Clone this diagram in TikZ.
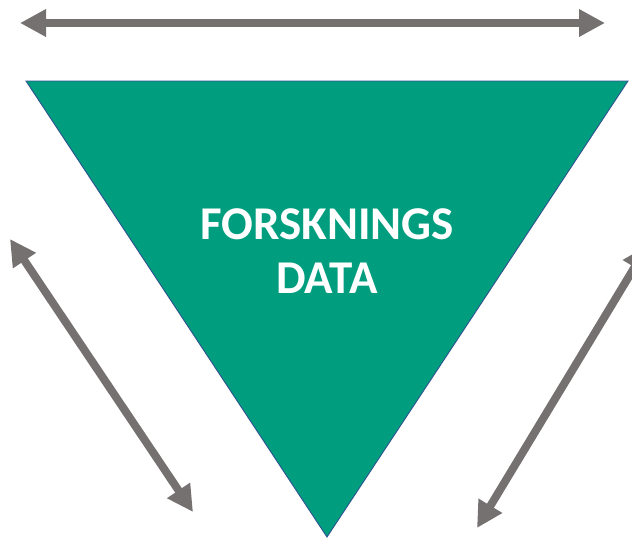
\documentclass[tikz,border=0pt]{standalone}
\usepackage{fontspec}
\setmainfont{Carlito}
\usetikzlibrary{arrows.meta}
\definecolor{datagreen}{HTML}{009E7E}
\definecolor{edgeblue}{HTML}{2F528F}
\definecolor{arrowgray}{HTML}{767171}
\tikzset{
  flow/.style={draw=arrowgray, line width=8pt,
    {Triangle[length=26pt,width=26pt]}-{Triangle[length=26pt,width=26pt]}},
  label/.style={text=white, font=\fontsize{47}{54}\selectfont\bfseries, align=center}
}
\begin{document}
\begin{tikzpicture}[x=1pt,y=-1pt]
  \useasboundingbox (0,0) rectangle (632,538);
  \begin{scope}
    \clip (0,0) rectangle (632,538);
    % corners of the inverted triangle
    \coordinate (tl) at (26,81);
    \coordinate (tr) at (628,81);
    \coordinate (apex) at (327,537);
    \fill[datagreen] (tl) -- (tr) -- (apex) -- cycle;
    \draw[edgeblue, line width=0.9pt, line join=miter] (tl) -- (tr) -- (apex) -- cycle;
    \node[label] (title) at (327,251) {FORSKNINGS\\DATA};
    % double-headed arrows along the three sides
    \coordinate (a1) at (20,23);
    \coordinate (a2) at (605,23);
    \coordinate (b1) at (10,239);
    \coordinate (b2) at (193,512);
    \coordinate (c1) at (648,245);
    \coordinate (c2) at (477,528);
    \draw[flow] (a1) -- (a2);
    \draw[flow] (b1) -- (b2);
    \draw[flow] (c1) -- (c2);
  \end{scope}
\end{tikzpicture}
\end{document}
